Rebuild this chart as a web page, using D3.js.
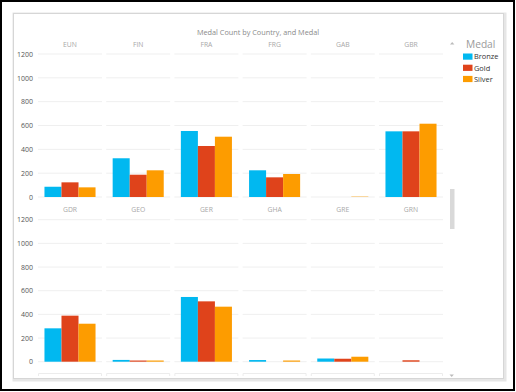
<!DOCTYPE html>
<html><head><meta charset="utf-8">
<script src="https://cdn.jsdelivr.net/npm/d3@7"></script>
<style>body{margin:0;background:#fff}svg{display:block;font-family:"Open Sans","Noto Sans",sans-serif}</style>
</head><body><svg id="c" width="516" height="392"></svg>
<script>
const countries = ["EUN","FIN","FRA","FRG","GAB","GBR","GDR","GEO","GER","GHA","GRE","GRN"];
const medals = ["Bronze","Gold","Silver"];
const bronze = [86, 325, 554, 224, 0, 551, 282, 15, 547, 14, 27, 0];
const gold   = [123, 187, 428, 165, 0, 551, 389, 10, 510, 0, 25, 12];
const silver = [81, 224, 506, 193, 3, 615, 321, 10, 465, 10, 42, 0];
const yTicks = [0, 200, 400, 600, 800, 1000, 1200];
const colors = ["#01B8F0", "#DF431B", "#FD9C00"];

const svg = d3.select("#c");
// frames
svg.append("rect").attr("x",1).attr("y",1).attr("width",513).attr("height",389)
  .attr("fill","none").attr("stroke","#000").attr("stroke-width",2);
svg.append("rect").attr("x",14).attr("y",14).attr("width",491).attr("height",366)
  .attr("fill","none").attr("stroke","#e6e6e6").attr("stroke-width",3);
svg.append("rect").attr("x",13.5).attr("y",13.5).attr("width",490).attr("height",365)
  .attr("fill","#fff").attr("stroke","#d6d6d6").attr("stroke-width",1);

svg.append("text").attr("x",258).attr("y",35).attr("text-anchor","middle")
  .attr("font-size",7.3).attr("fill","#8a8a8a").text("Medal Count by Country, and Medal");

const col = d3.scaleBand().domain(d3.range(6)).range([38, 443]).paddingInner(0.0616);
const inner = d3.scaleBand().domain(medals).range([0, col.bandwidth()]).paddingOuter(0.38).paddingInner(0);
const rows = [{y0:197, y1:54, lab:44}, {y0:361.7, y1:219.7, lab:209.3}];
const series = [bronze, gold, silver];

rows.forEach((r, ri) => {
  const y = d3.scaleLinear().domain([0,1200]).range([r.y0, r.y1]);
  const ax = svg.append("g").attr("transform","translate(36,0)")
    .call(d3.axisLeft(y).tickValues(yTicks).tickSize(0).tickPadding(3).tickFormat(d3.format("d")));
  ax.select(".domain").remove();
  ax.selectAll("text").attr("font-size",7).attr("fill","#555").attr("font-family","'Open Sans','Noto Sans',sans-serif");
  for (let c = 0; c < 6; c++) {
    const idx = ri*6 + c;
    const g = svg.append("g").attr("transform",`translate(${col(c)},0)`);
    g.selectAll("line.grid").data(yTicks).join("line").attr("class","grid")
      .attr("x1",0).attr("x2",col.bandwidth()).attr("y1",d=>y(d)).attr("y2",d=>y(d))
      .attr("stroke","#efefef").attr("stroke-width",1);
    g.append("text").attr("x",col.bandwidth()/2).attr("y",r.lab+2.5).attr("text-anchor","middle")
      .attr("font-size",6.8).attr("fill","#a8a8a8").text(countries[idx]);
    g.selectAll("rect").data(medals).join("rect")
      .attr("x",m=>inner(m)).attr("width",inner.bandwidth())
      .attr("y",(m,i)=>y(series[i][idx])).attr("height",(m,i)=>y(0)-y(series[i][idx]))
      .attr("fill",(m,i)=>colors[i]);
  }
});
// partial next row
for (let c = 0; c < 6; c++) {
  svg.append("path").attr("d",`M${col(c)+0.5},376V373.5H${col(c)+col.bandwidth()-0.5}V376`)
    .attr("fill","none").attr("stroke","#ececec").attr("stroke-width",1);
}
// scrollbar
svg.append("rect").attr("x",450).attr("y",189).attr("width",4.5).attr("height",40).attr("fill","#d9d9d9");
svg.append("path").attr("d","M450,44.5L452.2,42L454.4,44.5Z").attr("fill","#bbb");
svg.append("path").attr("d","M449.5,374.5L451.7,377L453.9,374.5Z").attr("fill","#bbb");

// legend
svg.append("text").attr("x",466).attr("y",47.5).attr("font-size",10.2).attr("fill","#9a9a9a").text("Medal");
const lg = svg.append("g");
medals.forEach((m,i) => {
  const yy = 53.5 + i*11.2;
  lg.append("rect").attr("x",463).attr("y",yy).attr("width",9.5).attr("height",6.2).attr("fill",colors[i]);
  lg.append("text").attr("x",474).attr("y",yy+5.8).attr("font-size",7.4).attr("fill","#333").text(m);
});
</script></body></html>
